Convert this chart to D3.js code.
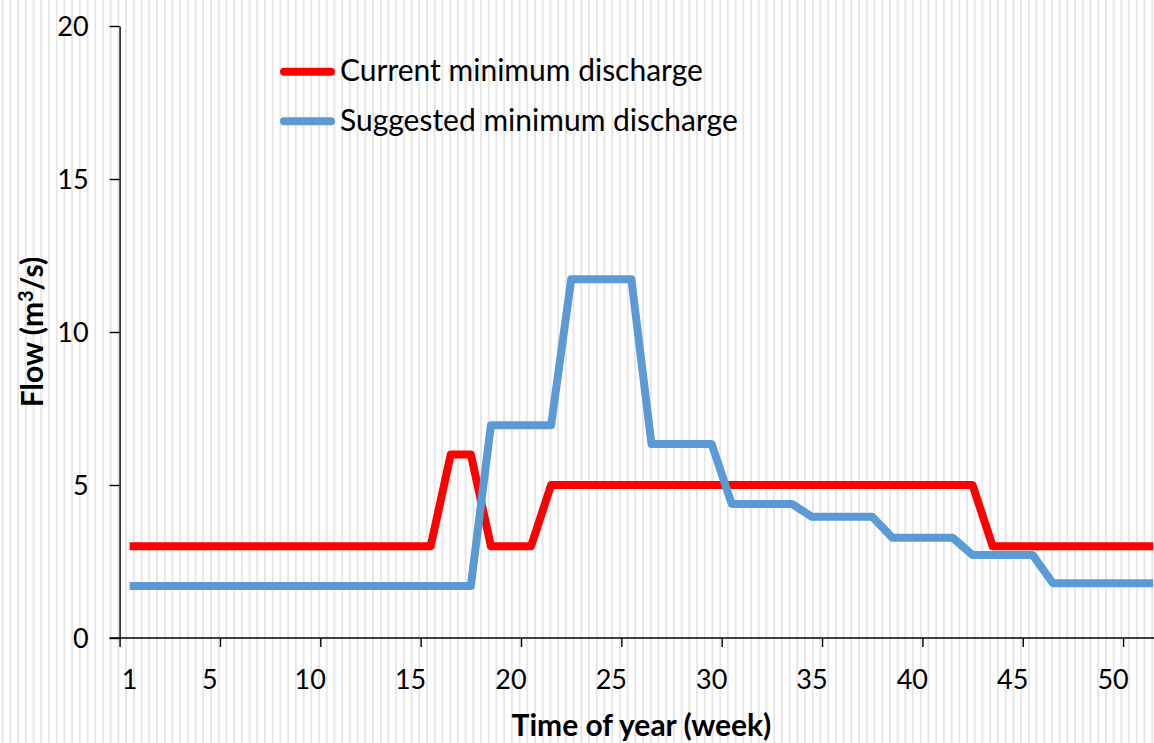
<!DOCTYPE html>
<html>
<head>
<meta charset="utf-8">
<script src="https://cdn.jsdelivr.net/npm/d3@7.9.0/dist/d3.min.js"></script>
<style>
  body { margin: 0; background: #fff; }
  svg { display: block; }
  text { font-family: Lato, "Open Sans", sans-serif; fill: #000; }
</style>
</head>
<body>
<svg id="chart"></svg>
<script>
// weekly minimum discharge, m3/s
const weeks = d3.range(1, 53);
const currentFlow = [
  3, 3, 3, 3, 3, 3, 3, 3, 3, 3, 3, 3, 3, 3, 3, 3,
  6, 6,
  3, 3, 3,
  5, 5, 5, 5, 5, 5, 5, 5, 5, 5, 5, 5, 5, 5, 5, 5, 5, 5, 5, 5, 5, 5,
  3, 3, 3, 3, 3, 3, 3, 3, 3
];
const suggestedFlow = [
  1.7, 1.7, 1.7, 1.7, 1.7, 1.7, 1.7, 1.7, 1.7, 1.7, 1.7, 1.7, 1.7, 1.7, 1.7, 1.7, 1.7, 1.7,
  6.95, 6.95, 6.95, 6.95,
  11.72, 11.72, 11.72, 11.72,
  6.34, 6.34, 6.34, 6.34,
  4.38, 4.38, 4.38, 4.38,
  3.96, 3.96, 3.96, 3.96,
  3.28, 3.28, 3.28, 3.28,
  2.71, 2.71, 2.71, 2.71,
  1.79, 1.79, 1.79, 1.79, 1.79, 1.79
];
const seriesNames = ['Current minimum discharge', 'Suggested minimum discharge'];
const seriesColors = ['#ff0000', '#5b9bd5'];
const xTickWeeks = [1, 5, 10, 15, 20, 25, 30, 35, 40, 45, 50];
const yTicks = [0, 5, 10, 15, 20];

const width = 1154;
const height = 743;
const weekWidth = 20.07;
const plotLeft = 119.6;

const svg = d3.select('#chart').attr('width', width).attr('height', height);

// faint vertical stripes in the background
const defs = svg.append('defs');
const pattern = defs.append('pattern')
  .attr('id', 'stripes')
  .attr('patternUnits', 'userSpaceOnUse')
  .attr('x', 1.7)
  .attr('width', 7.715)
  .attr('height', 10);
pattern.append('rect').attr('width', 2).attr('height', 10).attr('fill', '#e6e6e6');
svg.append('rect').attr('width', width).attr('height', height).attr('fill', '#fff');
svg.append('rect').attr('width', width).attr('height', height).attr('fill', 'url(#stripes)');

// category axis: each week is a band, the tick marks sit on the band edges
const x = d3.scaleLinear()
  .domain([0.5, 52.5])
  .range([plotLeft, plotLeft + 52 * weekWidth]);

const y = d3.scaleLinear()
  .domain([0, 20])
  .range([638, 26]);

// y axis
const yAxis = svg.append('g')
  .attr('transform', `translate(${plotLeft},0)`)
  .call(d3.axisLeft(y).tickValues(yTicks).tickSize(10).tickSizeOuter(0).tickPadding(21));
yAxis.select('.domain').attr('stroke', '#000').attr('stroke-width', 1.4);
yAxis.selectAll('.tick line').attr('stroke', '#000').attr('stroke-width', 1.4);
yAxis.selectAll('.tick text').style('font-size', '27px').attr('dy', '0.35em');

// x axis: marks on band edges, labels under band centres
const xAxis = svg.append('g')
  .attr('transform', `translate(0,${y(0)})`)
  .call(d3.axisBottom(x)
    .tickValues(xTickWeeks.map((w) => (w === 1 ? 0.5 : w + 0.5)))
    .tickSize(9)
    .tickSizeOuter(0)
    .tickFormat(''));
xAxis.select('.domain')
  .attr('d', `M${plotLeft - 10},0H${width}`)
  .attr('stroke', '#000')
  .attr('stroke-width', 1.4);
xAxis.selectAll('.tick line').attr('stroke', '#000').attr('stroke-width', 1.4);

svg.append('g')
  .selectAll('text')
  .data(xTickWeeks)
  .join('text')
  .attr('x', (d) => x(d))
  .attr('y', 689)
  .attr('text-anchor', 'middle')
  .style('font-size', '27px')
  .text((d) => d);

// axis titles
svg.append('text')
  .attr('x', (x(0.5) + x(52.5)) / 2)
  .attr('y', 736)
  .attr('text-anchor', 'middle')
  .style('font-size', '30px')
  .style('font-weight', 'bold')
  .text('Time of year (week)');

const yTitle = svg.append('text')
  .attr('transform', `translate(43,${(y(0) + y(20)) / 2}) rotate(-90)`)
  .attr('text-anchor', 'middle')
  .style('font-size', '30px')
  .style('font-weight', 'bold');
yTitle.append('tspan').text('Flow (m');
yTitle.append('tspan').attr('dy', -10).style('font-size', '20px').text('3');
yTitle.append('tspan').attr('dy', 10).text('/s)');

// series
const line = d3.line()
  .x((d, i) => x(weeks[i]))
  .y((d) => y(d));

[currentFlow, suggestedFlow].forEach((values, k) => {
  svg.append('path')
    .datum(values)
    .attr('fill', 'none')
    .attr('stroke', seriesColors[k])
    .attr('stroke-width', 8)
    .attr('stroke-linejoin', 'round')
    .attr('stroke-linecap', 'butt')
    .attr('d', line);
});

// legend
const legend = svg.append('g');
const legendRows = legend.selectAll('g')
  .data(seriesNames)
  .join('g')
  .attr('transform', (d, i) => `translate(0,${71.7 + i * 49.5})`);
legendRows.append('line')
  .attr('x1', 284)
  .attr('x2', 331)
  .attr('stroke', (d, i) => seriesColors[i])
  .attr('stroke-width', 8)
  .attr('stroke-linecap', 'round');
legendRows.append('text')
  .attr('x', 340)
  .attr('y', 9.5)
  .style('font-size', '30px')
  .text((d) => d);
</script>
</body>
</html>
